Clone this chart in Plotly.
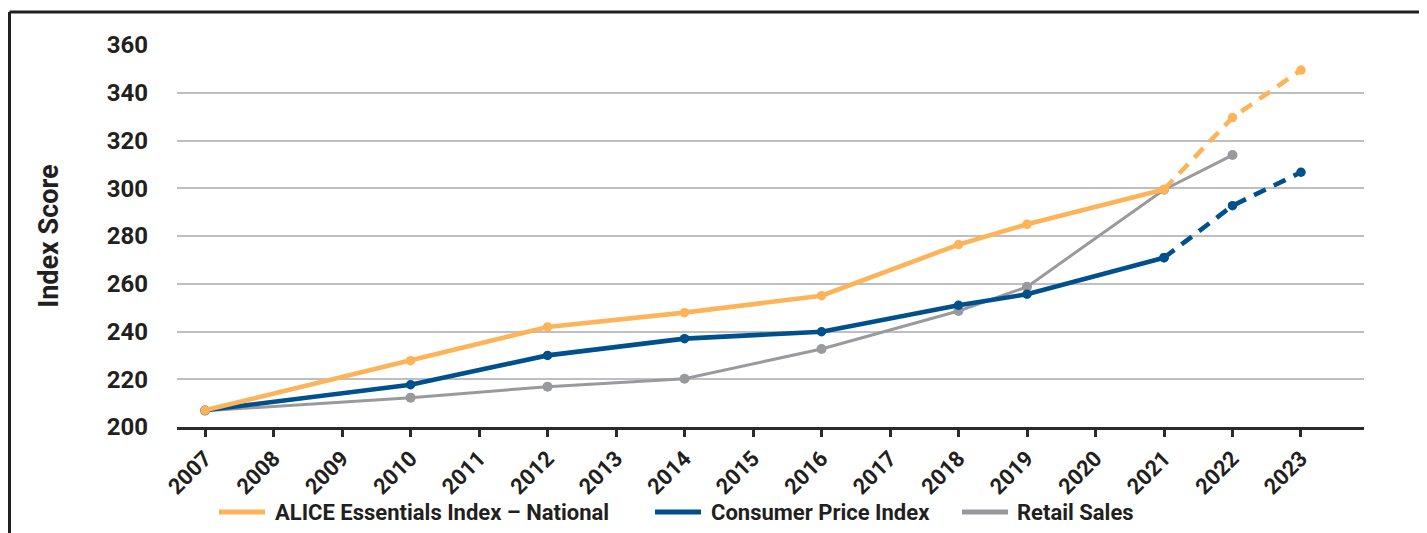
"""ALICE Essentials Index vs CPI vs Retail Sales, 2007-2023."""

import plotly.graph_objects as go

# ── Data ───────────────────────────────────────────────────────────
years_all = list(range(2007, 2024))

alice_years = [2007, 2010, 2012, 2014, 2016, 2018, 2019, 2021]
alice_vals = [207, 227.8, 241.9, 247.9, 255, 276.4, 284.9, 299.5]
alice_proj_years = [2021, 2022, 2023]
alice_proj_vals = [299.5, 329.6, 349.5]

cpi_years = [2007, 2010, 2012, 2014, 2016, 2018, 2019, 2021]
cpi_vals = [207, 217.7, 230.0, 237.0, 239.9, 251.0, 255.6, 270.9]
cpi_proj_years = [2021, 2022, 2023]
cpi_proj_vals = [270.9, 292.7, 306.7]

retail_years = [2007, 2010, 2012, 2014, 2016, 2018, 2019, 2021, 2022]
retail_vals = [206.8, 212.3, 216.9, 220.2, 232.7, 248.6, 258.7, 299.4, 313.9]

y_ticks = list(range(200, 361, 20))

legend_names = ["ALICE Essentials Index – National", "Consumer Price Index", "Retail Sales"]

# ── Styles ─────────────────────────────────────────────────────────
ORANGE = "#FDB459"
BLUE = "#00508E"
GRAY = "#999A9D"
TEXT = "#231F20"
FONT = "Roboto"

# figure geometry (page has an 8px body margin, so the figure is 8px smaller)
OFF = 8
W, H = 1427 - OFF, 533 - OFF
M_L, M_R, M_T, M_B = 169, 63, 37, 106
PW = W - M_L - M_R
PH = H - M_T - M_B


def px(page_x):
    return (page_x - OFF - M_L) / PW


def py(page_y):
    return (H - M_B - (page_y - OFF)) / PH


fig = go.Figure()


def add_series(x, y, color, width, msize, dash="solid"):
    fig.add_trace(go.Scatter(
        x=x, y=y, mode="lines+markers", showlegend=False, hoverinfo="x+y",
        line=dict(color=color, width=width, dash=dash),
        marker=dict(color=color, size=msize),
    ))


add_series(retail_years, retail_vals, GRAY, 3, 10)
add_series(cpi_years, cpi_vals, BLUE, 4.6, 9.5)
add_series(cpi_proj_years, cpi_proj_vals, BLUE, 4.6, 9.5, dash="13px,9px")
add_series(alice_years, alice_vals, ORANGE, 4.6, 9.5)
add_series(alice_proj_years, alice_proj_vals, ORANGE, 4.6, 9.5, dash="13px,9px")

# frame lines (top and left edge of the box)
fig.add_shape(type="line", xref="paper", yref="paper",
              x0=px(OFF + 1.5), x1=px(1450), y0=py(12), y1=py(12),
              line=dict(color=TEXT, width=3))
fig.add_shape(type="line", xref="paper", yref="paper",
              x0=px(OFF + 1.5), x1=px(OFF + 1.5), y0=py(12), y1=py(560),
              line=dict(color=TEXT, width=3))

# legend drawn by hand: (line start, line end, text start) in page px
legend_pos = [(219, 265, 273), (655, 701, 709), (962, 1008, 1015)]
legend_colors = [ORANGE, BLUE, GRAY]
LEG_Y = 512
for name, color, (x0, x1, xt) in zip(legend_names, legend_colors, legend_pos):
    fig.add_shape(type="line", xref="paper", yref="paper",
                  x0=px(x0), x1=px(x1), y0=py(LEG_Y), y1=py(LEG_Y),
                  line=dict(color=color, width=5))
    fig.add_annotation(text=name, xref="paper", yref="paper",
                       x=px(xt), y=py(LEG_Y), xanchor="left", yanchor="middle",
                       showarrow=False, font=dict(size=22, weight="bold"))

fig.update_layout(
    width=W, height=H,
    margin=dict(l=M_L, r=M_R, t=M_T, b=M_B),
    paper_bgcolor="white", plot_bgcolor="white",
    font=dict(family=FONT, color=TEXT, size=22, weight="bold"),
    showlegend=False,
    xaxis=dict(
        range=[2007 - 0.41, 2023 + 0.92],
        tickvals=years_all, ticktext=[str(y) for y in years_all],
        tickangle=-45, tickfont=dict(size=22, weight="bold"),
        showgrid=False, zeroline=False,
        showline=True, linecolor="#2B2B2B", linewidth=2.6,
        ticks="outside", ticklen=7, tickwidth=2.6, tickcolor="#2B2B2B",
    ),
    yaxis=dict(
        range=[200, 360], tickvals=y_ticks,
        tickfont=dict(size=24, weight="bold"),
        showgrid=True, gridcolor="#BFBFC3", gridwidth=1.8,
        zeroline=False, showline=False, ticks="",
        ticklabelstandoff=28,
        title=dict(text="Index Score", standoff=40,
                   font=dict(size=27, weight="bold")),
    ),
)

fig.write_html("out.html")
